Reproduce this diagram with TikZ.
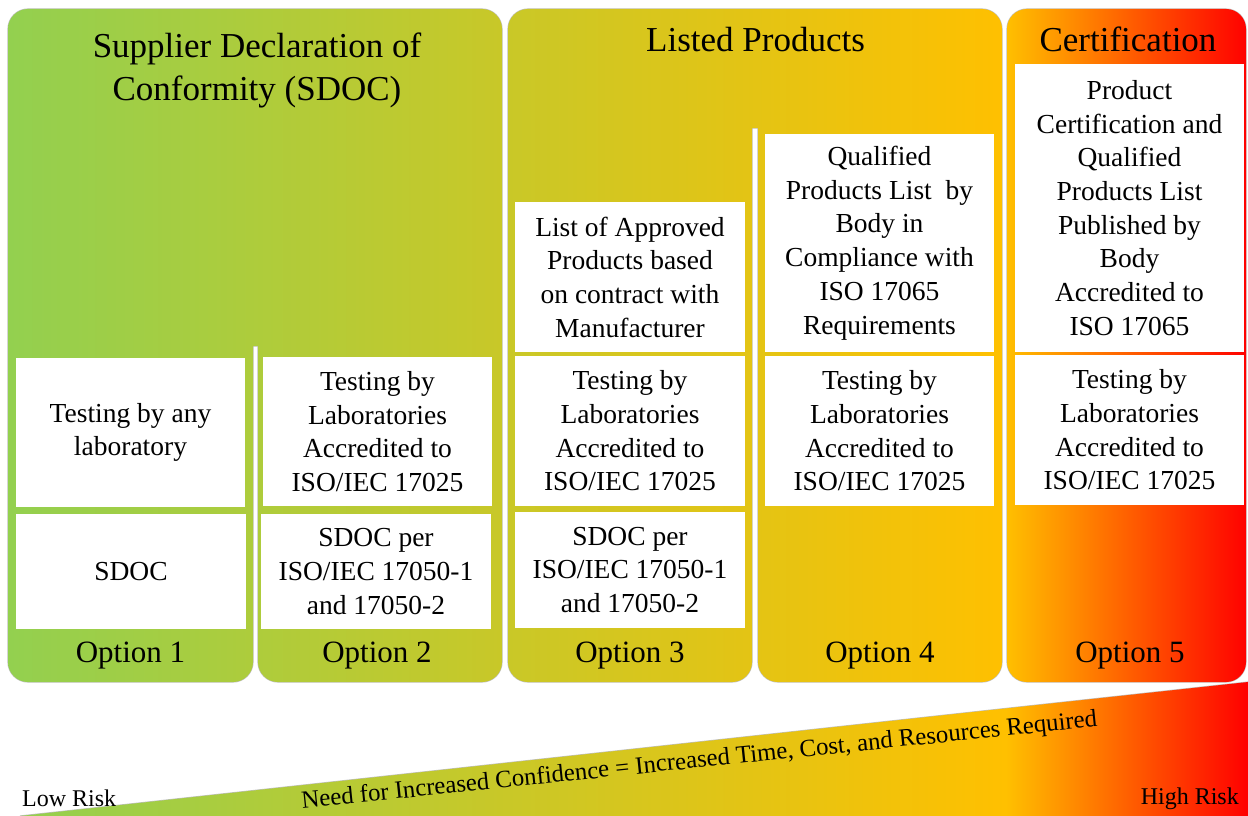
\documentclass[tikz,border=0pt]{standalone}
\usepackage{fontspec}
\setmainfont{Liberation Serif}
\definecolor{riskgreen}{RGB}{146,208,80}
\definecolor{riskgold}{RGB}{255,192,0}
\definecolor{riskred}{RGB}{255,0,0}
% left-to-right risk scale; the path bounding box maps onto 25bp..75bp
\pgfdeclarehorizontalshading{riskscale}{100bp}{%
  color(0bp)=(riskgreen); color(25bp)=(riskgreen);
  color(65.3bp)=(riskgold);
  color(75bp)=(riskred); color(100bp)=(riskred)}
\begin{document}
\begin{tikzpicture}[x=1pt,y=-1pt,
  paneledge/.style={draw=black!25,line width=1.2pt},
  hdr/.style={font=\fontsize{35}{43}\selectfont,align=center,inner sep=0pt},
  optlabel/.style={font=\fontsize{31}{36}\selectfont,inner sep=0pt,anchor=base},
  cell/.style={fill=white,inner sep=0pt,align=center,
    font=\fontsize{27.5}{33.7}\selectfont},
  riskmark/.style={font=\fontsize{24}{28}\selectfont,inner sep=0pt},
  slogan/.style={font=\fontsize{24.8}{30}\selectfont,inner sep=0pt,anchor=base,rotate=5.9}]
\useasboundingbox (0,0) rectangle (1248,816);

% outlines of the panels and of the risk wedge
\path[paneledge] (20,816) -- (1248,682) -- (1248,816) -- cycle;
\path[paneledge,rounded corners=20pt]
  (8,9) rectangle (502,346) (8,300) rectangle (253,682) (258,300) rectangle (502,682)
  (508,9) rectangle (1002,128) (508,60) rectangle (752,682) (758,60) rectangle (1002,682)
  (1007,9) rectangle (1246,682);

% one common gradient for all panels and the wedge
\begin{scope}
  \clip (20,816) -- (1248,682) -- (1248,816) -- cycle
    [rounded corners=20pt]
    (8,9) rectangle (502,346) (8,300) rectangle (253,682) (258,300) rectangle (502,682)
    (508,9) rectangle (1002,128) (508,60) rectangle (752,682) (758,60) rectangle (1002,682)
    (1007,9) rectangle (1246,682);
  \shade[shading=riskscale] (0,0) rectangle (1248,816);
\end{scope}

% group headings
\node[hdr] (hsdoc) at (257,70.4) {Supplier Declaration of\\Conformity (SDOC)};
\node[hdr,anchor=base] (hlisted) at (755.5,52) {Listed Products};
\node[hdr,anchor=base] (hcert) at (1128,52) {Certification};

% Option 1
\node[cell,minimum width=229pt,minimum height=149pt] (a1) at (130.5,432.5) {Testing by any\\laboratory};
\node[cell,minimum width=230pt,minimum height=115pt] (a2) at (131,571.5) {SDOC};
\node[optlabel] (o1) at (130.5,662) {Option 1};

% Option 2
\node[cell,minimum width=229pt,minimum height=149pt] (b1) at (377.5,431.5) {Testing by\\Laboratories\\Accredited to\\ISO/IEC 17025};
\node[cell,minimum width=230pt,minimum height=115pt] (b2) at (376,571.5) {SDOC per\\ISO/IEC 17050-1\\and 17050-2};
\node[optlabel] (o2) at (377,662) {Option 2};

% Option 3
\node[cell,minimum width=230pt,minimum height=150pt] (c1) at (630,277) {List of Approved\\Products based\\on contract with\\Manufacturer};
\node[cell,minimum width=230pt,minimum height=150pt] (c2) at (630,431) {Testing by\\Laboratories\\Accredited to\\ISO/IEC 17025};
\node[cell,minimum width=230pt,minimum height=116pt] (c3) at (630,570) {SDOC per\\ISO/IEC 17050-1\\and 17050-2};
\node[optlabel] (o3) at (630,662) {Option 3};

% Option 4
\node[cell,minimum width=229pt,minimum height=218pt] (d1) at (879.5,243) {Qualified\\Products List\ \ by\\Body in\\Compliance with\\ISO 17065\\Requirements};
\node[cell,minimum width=229pt,minimum height=150pt] (d2) at (879.5,431) {Testing by\\Laboratories\\Accredited to\\ISO/IEC 17025};
\node[optlabel] (o4) at (880,662) {Option 4};

% Option 5
\node[cell,minimum width=229pt,minimum height=288pt] (e1) at (1129.5,208) {Product\\Certification and\\Qualified\\Products List\\Published by\\Body\\Accredited to\\ISO 17065};
\node[cell,minimum width=229pt,minimum height=150pt] (e2) at (1129.5,430) {Testing by\\Laboratories\\Accredited to\\ISO/IEC 17025};
\node[optlabel] (o5) at (1130,662) {Option 5};

% risk scale labels
\node[slogan] (need) at (700,767.5) {Need for Increased Confidence = Increased Time, Cost, and Resources Required};
\node[riskmark,anchor=base west] (low) at (22,806) {Low Risk};
\node[riskmark,anchor=base east] (high) at (1239,804) {High Risk};
\end{tikzpicture}
\end{document}
